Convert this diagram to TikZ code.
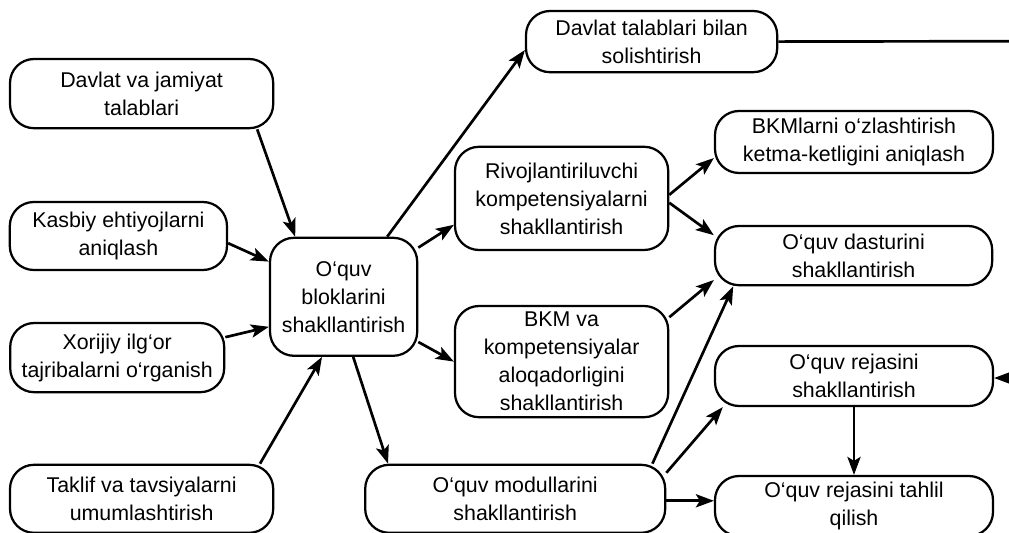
\documentclass[tikz,border=0pt]{standalone}
\usepackage{fontspec}
\setmainfont{Liberation Sans}
\usepackage{pgf,tikz}
\usetikzlibrary{arrows,arrows.meta}

\begin{document}
\begin{tikzpicture}[
	blok/.style={draw, line width=1.6pt, rounded corners=0.6cm, align=center, inner sep=0pt, font=\fontsize{15.2}{19.9}\selectfont},
	strelka/.style={line width=1.9pt, -{Stealth[length=0.45cm, width=0.33cm, inset=0.1cm]}}
	]
	\useasboundingbox (0,0) rectangle (25.225,13.3);
	% chap ustun
	\node[blok, minimum width=6.58cm, minimum height=1.73cm] (jamiyat) at (3.54,10.96) {Davlat va jamiyat\\talablari};
	\node[blok, minimum width=5.43cm, minimum height=1.70cm] (kasbiy) at (2.96,7.40) {Kasbiy ehtiyojlarni\\aniqlash};
	\node[blok, minimum width=5.35cm, minimum height=1.73cm] (xorijiy) at (2.93,4.36) {Xorijiy ilg‘or\\tajribalarni o‘rganish};
	\node[blok, minimum width=6.58cm, minimum height=1.70cm] (taklif) at (3.54,0.83) {Taklif va tavsiyalarni\\umumlashtirish};
	\node[blok, minimum width=3.68cm, minimum height=2.95cm] (bloklar) at (8.59,5.88) {O‘quv\\bloklarini\\shakllantirish};
	% o'rta ustun
	\node[blok, minimum width=6.28cm, minimum height=1.53cm] (solish) at (16.29,12.26) {Davlat talablari bilan\\solishtirish};
	\node[blok, minimum width=5.33cm, minimum height=2.58cm] (rivoj) at (14.04,8.34) {Rivojlantiriluvchi\\kompetensiyalarni\\shakllantirish};
	\node[blok, minimum width=5.33cm, minimum height=2.78cm] (aloqa) at (14.04,4.26) {BKM va\\kompetensiyalar\\aloqadorligini\\shakllantirish};
	\node[blok, minimum width=7.50cm, minimum height=1.70cm] (modul) at (12.88,0.83) {O‘quv modullarini\\shakllantirish};
	% o'ng ustun
	\node[blok, minimum width=6.95cm, minimum height=1.55cm] (ketma) at (21.35,9.75) {BKMlarni o‘zlashtirish\\ketma-ketligini aniqlash};
	\node[blok, minimum width=6.93cm, minimum height=1.48cm] (dastur) at (21.34,6.91) {O‘quv dasturini\\shakllantirish};
	\node[blok, minimum width=6.95cm, minimum height=1.50cm] (reja) at (21.35,3.90) {O‘quv rejasini\\shakllantirish};
	\node[blok, minimum width=6.95cm, minimum height=1.50cm] (tahlil) at (21.35,0.65) {O‘quv rejasini tahlil\\qilish};
	\coordinate (solishend) at (25.225,12.27);
	\coordinate (rejastart) at (25.225,3.85);
	% strelkalar
	\draw[strelka] ([xshift=2.89cm]jamiyat.south) -- ([xshift=-1.21cm]bloklar.north);
	\draw[strelka] ([yshift=-0.18cm]kasbiy.east) -- ([yshift=0.88cm]bloklar.west);
	\draw[strelka] ([yshift=0.51cm]xorijiy.east) -- ([yshift=-0.75cm]bloklar.west);
	\draw[strelka] ([xshift=2.96cm]taklif.north) -- ([xshift=-0.54cm]bloklar.south);
	\draw[strelka] ([xshift=1.09cm]bloklar.north) -- ([yshift=-0.21cm]solish.west);
	\draw[strelka] ([yshift=1.23cm]bloklar.east) -- ([yshift=-0.66cm]rivoj.west);
	\draw[strelka] ([yshift=-1.13cm]bloklar.east) -- (aloqa.west);
	\draw[strelka] ([xshift=0.24cm]bloklar.south) -- ([xshift=-3.18cm]modul.north);
	\draw[strelka] ([yshift=0.09cm]rivoj.east) -- ([yshift=-0.40cm]ketma.west);
	\draw[strelka] ([yshift=-0.11cm]rivoj.east) -- ([yshift=0.51cm]dastur.west);
	\draw[strelka] ([yshift=1.11cm]aloqa.east) -- ([yshift=-0.61cm]dastur.west);
	\draw[strelka] ([xshift=3.43cm]modul.north) -- ([xshift=-3.01cm]dastur.south);
	\draw[strelka] ([yshift=0.65cm]modul.east) -- ([xshift=-3.28cm]reja.south);
	\draw[strelka] ([yshift=-0.05cm]modul.east) -- ([yshift=-0.05cm]modul.east -| tahlil.west);
	\draw[strelka] (reja.south) -- (reja.south |- tahlil.north);
	\draw[line width=1.9pt] (solish.east) -- (solishend);
	\draw[strelka] (rejastart) -- (rejastart -| reja.east);
\end{tikzpicture}
\end{document}
